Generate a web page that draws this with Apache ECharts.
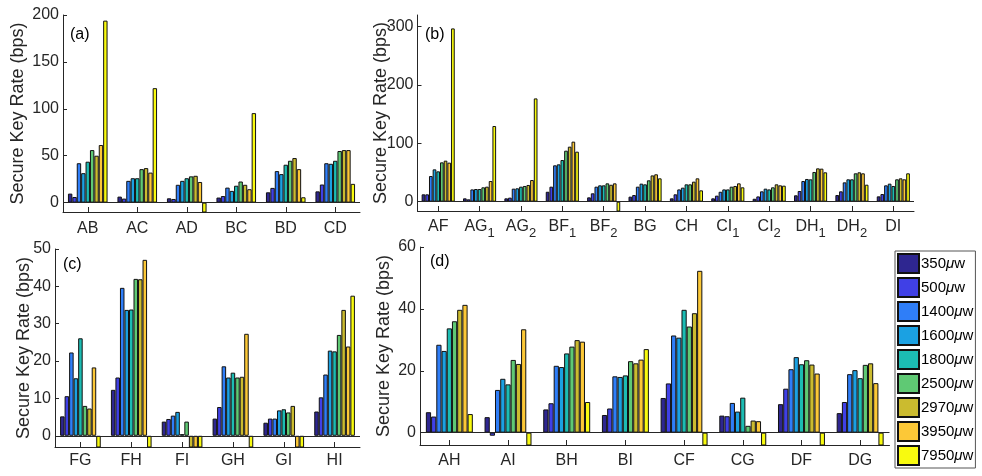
<!DOCTYPE html>
<html>
<head>
<meta charset="utf-8">
<script src="https://cdn.jsdelivr.net/npm/echarts@6/dist/echarts.min.js"></script>
<style>
html,body{margin:0;padding:0;background:#fff;}
#chart{width:982px;height:476px;}
</style>
</head>
<body>
<div id="chart"></div>
<script>
// Negative key rates (drawn clipped at the bottom of each axis)
const NEG = -1000;

const powers = ['350μw','500μw','1400μw','1600μw','1800μw','2500μw','2970μw','3950μw','7950μw'];
const colors = ['#2e2690','#4040e6','#2f7ef8','#1ba1e2','#1cbcb3','#5fc974','#cbbb2f','#fcc837','#f8fa0f'];

// Panel (a): one row per category, values per power level
const aCats = ['AB','AC','AD','BC','BD','CD'];
const aRows = [
  [9.6, 6.0, 42.0, 31.4, 43.6, 56.0, 50.0, 61.4, 194.0],
  [6.4, 4.3, 23.2, 26.0, 26.0, 35.7, 36.8, 32.0, 122.0],
  [4.6, 3.9, 19.0, 23.2, 26.0, 28.0, 28.6, 22.0, NEG],
  [5.4, 7.0, 16.0, 12.5, 18.0, 22.5, 19.0, 14.3, 95.4],
  [11.0, 15.7, 33.6, 30.4, 40.4, 44.6, 47.5, 35.7, 5.7],
  [12.0, 19.3, 42.0, 41.4, 44.6, 55.0, 56.0, 56.0, 20.0]
];

// Panel (b)
const bCats = ['AF','AG_1','AG_2','BF_1','BF_2','BG','CH','CI_1','CI_2','DH_1','DH_2','DI'];
const bRows = [
  [12.6, 12.6, 44.0, 55.4, 52.0, 67.4, 70.3, 66.9, 297.0],
  [5.7, 4.0, 21.0, 21.7, 21.7, 24.6, 25.7, 35.4, 129.7],
  [5.7, 6.9, 22.3, 22.9, 25.7, 26.9, 28.6, 37.1, 177.0],
  [17.0, 25.7, 62.3, 64.0, 71.4, 87.4, 94.3, 102.9, 85.7],
  [7.4, 14.3, 25.7, 28.0, 28.0, 31.4, 29.0, 31.4, NEG],
  [8.6, 11.4, 25.7, 30.9, 29.7, 36.6, 45.0, 46.9, 40.0],
  [5.7, 12.6, 21.0, 24.0, 29.7, 29.7, 34.3, 40.0, 19.4],
  [5.7, 10.3, 17.0, 21.0, 21.0, 25.7, 26.9, 31.4, 24.6],
  [5.0, 9.0, 17.7, 22.3, 21.0, 24.6, 29.7, 28.0, 27.4],
  [10.9, 18.3, 35.4, 38.9, 38.3, 50.9, 57.1, 56.6, 50.3],
  [11.4, 17.7, 33.1, 38.3, 38.3, 48.6, 50.3, 48.6, 29.1],
  [9.1, 13.1, 28.0, 30.9, 26.9, 38.3, 40.0, 38.3, 48.6]
];

// Panel (c)
const cCats = ['FG','FH','FI','GH','GI','HI'];
const cRows = [
  [5.2, 10.6, 22.3, 15.4, 26.1, 8.0, 7.3, 18.3, NEG],
  [12.3, 15.6, 39.6, 33.7, 33.8, 42.0, 41.9, 47.1, NEG],
  [3.8, 4.5, 5.4, 6.4, 0.45, 3.8, NEG, NEG, NEG],
  [4.6, 7.7, 18.6, 15.6, 16.9, 15.6, 15.8, 27.3, NEG],
  [3.5, 4.6, 4.6, 6.8, 7.1, 6.25, 8.0, NEG, NEG],
  [6.5, 10.3, 16.4, 22.8, 22.6, 27.0, 33.7, 23.9, 37.5]
];

// Panel (d)
const dCats = ['AH','AI','BH','BI','CF','CG','DF','DG'];
const dRows = [
  [6.6, 5.2, 28.4, 26.4, 33.7, 36.0, 39.7, 41.3, 6.0],
  [5.0, -1.0, 13.8, 17.4, 15.6, 23.5, 22.2, 33.4, NEG],
  [7.5, 9.5, 21.6, 21.2, 25.6, 27.8, 29.9, 29.4, 9.9],
  [5.7, 7.8, 18.2, 18.0, 18.5, 23.1, 22.4, 23.6, 27.0],
  [11.2, 15.9, 31.4, 30.7, 39.7, 34.3, 38.6, 52.3, NEG],
  [5.5, 5.3, 9.6, 6.8, 11.3, 2.2, 3.9, 3.7, NEG],
  [9.2, 14.2, 20.5, 24.4, 22.1, 23.4, 22.0, 19.1, NEG],
  [6.3, 9.9, 18.9, 20.2, 17.6, 21.9, 22.4, 16.0, NEG]
];

const yMin = [-10, -16, -3, -4];
const yMax = [200, 320, 50, 60];
const ySplit = [4, 3, 5, 3];
const panelLabels = ['(a)','(b)','(c)','(d)'];
const yName = 'Secure Key Rate (bps)';

const FONT = '"Liberation Sans", Arial, Helvetica, sans-serif';
const TXT = '#262626';

const panels = [
  {cats: aCats, rows: aRows},
  {cats: bCats, rows: bRows},
  {cats: cCats, rows: cRows},
  {cats: dCats, rows: dRows}
];

const grids = [
  {left: 63, top: 15, width: 297, height: 197},
  {left: 417.5, top: 15, width: 496.5, height: 196},
  {left: 55, top: 249, width: 305, height: 198},
  {left: 420, top: 247, width: 469.5, height: 198}
];
const nameGaps = [36, 27, 22, 27];
const xMargins = [9, 3, 6, 8];
const labelPos = [[70, 27], [425, 27], [63, 257], [430, 254]];

const xAxes = panels.map((p, i) => ({
  type: 'category',
  gridIndex: i,
  data: p.cats,
  boundaryGap: true,
  axisLine: {onZero: false, lineStyle: {color: TXT, width: 1}},
  axisTick: {show: true, inside: true, alignWithLabel: true, length: 5, lineStyle: {color: TXT}},
  axisLabel: i === 1 ? {
    color: TXT, fontSize: 16, fontFamily: FONT, margin: xMargins[i], interval: 0,
    formatter: v => {
      const parts = v.split('_');
      return parts.length > 1 ? '{b|' + parts[0] + '}{sub|' + parts[1] + '}' : '{b|' + v + '}';
    },
    rich: {
      b: {fontSize: 16, fontFamily: FONT, color: TXT, lineHeight: 26},
      sub: {fontSize: 13, fontFamily: FONT, color: TXT, padding: [13, 0, 0, 0]}
    }
  } : {color: TXT, fontSize: 16, fontFamily: FONT, margin: xMargins[i], interval: 0}
}));

const yAxes = panels.map((p, i) => ({
  type: 'value',
  gridIndex: i,
  min: yMin[i],
  max: yMax[i],
  splitNumber: ySplit[i],
  name: yName,
  nameLocation: 'middle',
  nameGap: nameGaps[i],
  nameMoveOverlap: false,
  nameTextStyle: {color: TXT, fontSize: 18, fontFamily: FONT},
  axisLine: {show: true, lineStyle: {color: TXT, width: 1}},
  axisTick: {show: true, inside: true, length: 4, lineStyle: {color: TXT}},
  splitLine: {show: false},
  axisLabel: {color: TXT, fontSize: 16, fontFamily: FONT, margin: 4, showMinLabel: false}
}));

const series = [];
panels.forEach((p, gi) => {
  powers.forEach((pw, k) => {
    const s = {
      name: pw,
      type: 'bar',
      xAxisIndex: gi,
      yAxisIndex: gi,
      data: p.rows.map(r => r[k]),
      barGap: '0%',
      barCategoryGap: '20%',
      clip: true,
      itemStyle: {color: colors[k], borderColor: '#111', borderWidth: 1},
      emphasis: {disabled: true}
    };
    if (k === 0) {
      s.markLine = {
        silent: true, symbol: 'none', animation: false,
        label: {show: false},
        lineStyle: {color: TXT, width: 1, type: 'solid'},
        data: [{yAxis: 0}]
      };
    }
    series.push(s);
  });
});

const option = {
  backgroundColor: '#fff',
  animation: false,
  textStyle: {fontFamily: FONT},
  grid: grids.map(g => Object.assign({containLabel: false}, g)),
  xAxis: xAxes,
  yAxis: yAxes,
  legend: {
    data: powers,
    orient: 'vertical',
    left: 895,
    top: 251,
    height: 222,
    padding: [2, 2, 2, 2],
    itemWidth: 21,
    itemHeight: 19,
    itemGap: 3,
    icon: 'rect',
    borderColor: '#555',
    borderWidth: 1,
    backgroundColor: '#fff',
    selectedMode: false,
    formatter: n => n.replace('μw', '{mu|μ}w'),
    textStyle: {
      color: '#000', fontSize: 15, fontFamily: FONT, padding: [0, 0, 0, -3], lineHeight: 17,
      rich: {mu: {fontStyle: 'italic', fontSize: 15, fontFamily: FONT, color: '#000', lineHeight: 17}}
    }
  },
  graphic: panelLabels.map((t, i) => ({
    type: 'text',
    left: labelPos[i][0],
    top: labelPos[i][1],
    style: {text: t, fontSize: 16, fontFamily: FONT, fill: '#000'}
  })),
  series: series
};

const chart = echarts.init(document.getElementById('chart'), null, {renderer: 'canvas'});
chart.setOption(option);
</script>
</body>
</html>
